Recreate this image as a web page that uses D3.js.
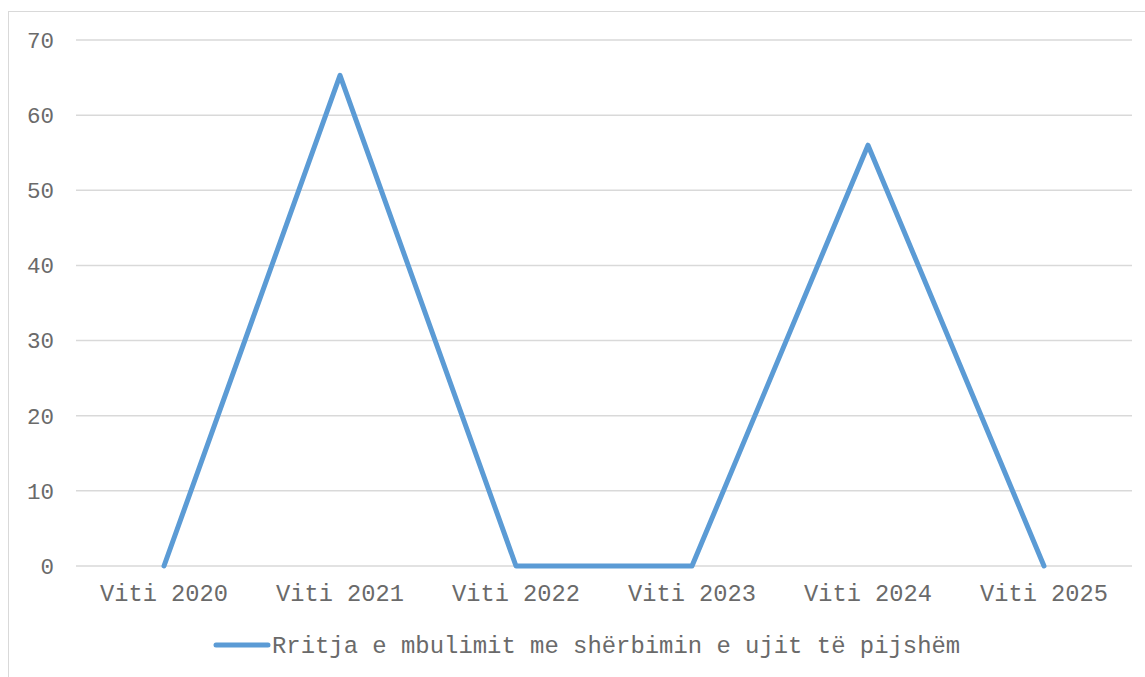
<!DOCTYPE html>
<html>
<head>
<meta charset="utf-8">
<script src="https://cdn.jsdelivr.net/npm/d3@7"></script>
<style>
  body { margin: 0; background: #fff; }
  text { font-family: "Liberation Mono", "Courier New", monospace; fill: #6a6a6a; }
</style>
</head>
<body>
<div class="chart"></div>
<script>
var categories = ["Viti 2020", "Viti 2021", "Viti 2022", "Viti 2023", "Viti 2024", "Viti 2025"];
var values = [0, 65.3, 0, 0, 56, 0];
var yTicks = [0, 10, 20, 30, 40, 50, 60, 70];
var seriesName = "Rritja e mbulimit me shërbimin e ujit të pijshëm";

var W = 1145, H = 677;
var margin = { top: 40, right: 13, bottom: 111, left: 76 };
var width = W - margin.left - margin.right, height = H - margin.top - margin.bottom;

var svg = d3.select(".chart").append("svg")
    .attr("width", W).attr("height", H);

// chart border
svg.append("rect")
    .attr("x", 8.5).attr("y", 11.5)
    .attr("width", W).attr("height", H)
    .attr("fill", "none").attr("stroke", "#d9d9d9").attr("stroke-width", 1);

var g = svg.append("g").attr("transform", "translate(" + margin.left + "," + margin.top + ")");

var x = d3.scaleBand().domain(categories).range([0, width]);
var y = d3.scaleLinear().domain([0, 70]).range([height, 0]);

// gridlines
g.selectAll(".grid").data(yTicks).enter().append("line")
    .attr("x1", 0).attr("x2", width)
    .attr("y1", d => y(d)).attr("y2", d => y(d))
    .attr("stroke", "#d9d9d9").attr("stroke-width", 1.5);

// y labels
g.selectAll(".ylab").data(yTicks).enter().append("text")
    .attr("x", -22).attr("y", d => y(d))
    .attr("dy", "0.35em")
    .attr("text-anchor", "end")
    .attr("font-size", 22.5)
    .text(d => d);

// x labels
g.selectAll(".xlab").data(categories).enter().append("text")
    .attr("x", d => x(d) + x.bandwidth() / 2)
    .attr("y", height + 27)
    .attr("dy", "0.35em")
    .attr("text-anchor", "middle")
    .attr("font-size", 23.7)
    .text(d => d);

// line
var line = d3.line()
    .x((d, i) => x(categories[i]) + x.bandwidth() / 2)
    .y(d => y(d));

g.append("path")
    .datum(values)
    .attr("d", line)
    .attr("fill", "none")
    .attr("stroke", "#5b9bd5")
    .attr("stroke-width", 5)
    .attr("stroke-linejoin", "round")
    .attr("stroke-linecap", "round");

// legend
var lg = svg.append("g").attr("transform", "translate(216," + 645 + ")");
lg.append("line")
    .attr("x1", 0).attr("x2", 52).attr("y1", 0).attr("y2", 0)
    .attr("stroke", "#5b9bd5").attr("stroke-width", 5).attr("stroke-linecap", "round");
lg.append("text")
    .attr("x", 56).attr("y", 0).attr("dy", "0.35em")
    .attr("font-size", 23.9)
    .text(seriesName);
</script>
</body>
</html>
